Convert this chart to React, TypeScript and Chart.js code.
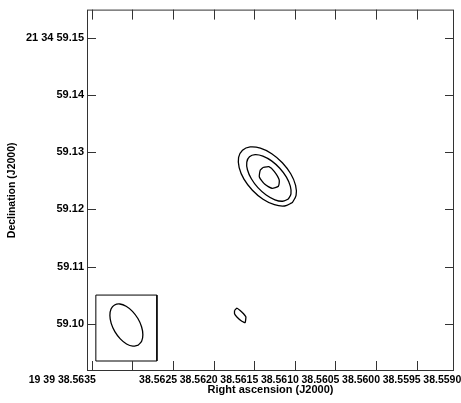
import React, { useEffect, useRef } from "react";
import { Chart, registerables } from "chart.js";

Chart.register(...registerables);

// Axis ranges (RA in seconds of 19h39m, Dec in arcsec of +21d34')
const raRange = [38.55904, 38.56356];
const decRange = [59.0917, 59.155];

// RA ticks listed left-to-right (RA decreases to the right)
const raTicks = [38.5635, 38.563, 38.5625, 38.562, 38.5615, 38.561, 38.5605, 38.56, 38.5595, 38.559];
const raTickLabels = ["19 39 38.5635", "", "38.5625", "38.5620", "38.5615", "38.5610", "38.5605", "38.5600", "38.5595", "38.5590"];
const decTicks = [59.1, 59.11, 59.12, 59.13, 59.14, 59.15];
const decTickLabels = ["59.10", "59.11", "59.12", "59.13", "59.14", "21 34 59.15"];

// Contours: [RA, Dec] vertices
const outerContour: [number, number][] = [
  [38.561032, 59.121176], [38.561126, 59.120603], [38.561252, 59.12082], [38.561392, 59.121786],
  [38.561523, 59.123365], [38.561627, 59.12531], [38.561686, 59.127323], [38.561693, 59.129103],
  [38.561645, 59.130375], [38.561551, 59.130948], [38.561425, 59.13073], [38.561285, 59.129765],
  [38.561154, 59.128185], [38.561051, 59.126241], [38.560991, 59.124227], [38.560985, 59.122448],
  [38.561032, 59.121176],
];
const middleContour: [number, number][] = [
  [38.561081, 59.121801], [38.561151, 59.121436], [38.561246, 59.121691], [38.561353, 59.122529],
  [38.561455, 59.123822], [38.561536, 59.125374], [38.561584, 59.126946], [38.561592, 59.128301],
  [38.561559, 59.129232], [38.561489, 59.129598], [38.561394, 59.129343], [38.561287, 59.128505],
  [38.561186, 59.127212], [38.561104, 59.12566], [38.561056, 59.124088], [38.561048, 59.122732],
  [38.561081, 59.121801],
];
const innerContour: [number, number][] = [
  [38.56139, 59.127361], [38.56132, 59.127499], [38.561252, 59.126637], [38.561193, 59.125172],
  [38.561203, 59.124051], [38.561283, 59.123706], [38.561369, 59.124396], [38.561437, 59.125689],
  [38.561425, 59.126896], [38.56139, 59.127361],
];
const smallContour: [number, number][] = [
  [38.561743, 59.10229], [38.561714, 59.10271], [38.561674, 59.10229], [38.561632, 59.10172],
  [38.561603, 59.10116], [38.561612, 59.10017], [38.561653, 59.1004], [38.561714, 59.10116],
  [38.561743, 59.10172], [38.561743, 59.10229],
];
const beamContour: [number, number][] = [
  [38.56293, 59.096217], [38.562995, 59.096045], [38.563073, 59.09644], [38.56315, 59.097333],
  [38.563217, 59.098595], [38.563262, 59.100033], [38.563278, 59.101422], [38.563264, 59.102559],
  [38.56322, 59.103265], [38.563155, 59.103438], [38.563078, 59.103043], [38.563, 59.10215],
  [38.562933, 59.100888], [38.562888, 59.09945], [38.562872, 59.09806], [38.562887, 59.096924],
  [38.56293, 59.096217],
];
const beamBox: [number, number][] = [
  [38.563451, 59.105], [38.562699, 59.105], [38.562699, 59.09345], [38.563451, 59.09345], [38.563451, 59.105],
];

const FONT = "'Liberation Sans', Arial, Helvetica, sans-serif";

const toPts = (arr: [number, number][]) => arr.map(([x, y]) => ({ x, y }));

const framePlugin = {
  id: "frameTicks",
  afterDraw(chart: any) {
    const { ctx, chartArea: a, scales } = chart;
    const xs = scales.x;
    const ys = scales.y;
    ctx.save();
    ctx.strokeStyle = "#333";
    ctx.lineWidth = 1;
    ctx.strokeRect(a.left + 0.5, a.top + 0.5, a.right - a.left - 1, a.bottom - a.top - 1);
    ctx.beginPath();
    raTicks.forEach((v) => {
      if (v < xs.min || v > xs.max) return;
      const px = Math.round(xs.getPixelForValue(v)) + 0.5;
      ctx.moveTo(px, a.bottom);
      ctx.lineTo(px, a.bottom - 10);
      ctx.moveTo(px, a.top);
      ctx.lineTo(px, a.top + 10);
    });
    decTicks.forEach((v) => {
      if (v < ys.min || v > ys.max) return;
      const py = Math.round(ys.getPixelForValue(v)) + 0.5;
      ctx.moveTo(a.left, py);
      ctx.lineTo(a.left + 9, py);
      ctx.moveTo(a.right, py);
      ctx.lineTo(a.right - 9, py);
    });
    ctx.stroke();
    ctx.restore();
  },
};

export default function App() {
  const ref = useRef<HTMLCanvasElement>(null);
  useEffect(() => {
    document.body.style.margin = "0";
    if (!ref.current) return;
    const line = (data: [number, number][], tension: number, width = 1.3) => ({
      data: toPts(data),
      showLine: true,
      borderColor: "#000",
      borderWidth: width,
      pointRadius: 0,
      tension,
      fill: false,
    });
    const chart = new Chart(ref.current, {
      type: "scatter",
      data: {
        datasets: [
          line(outerContour, 0.35),
          line(middleContour, 0.35),
          line(innerContour, 0.2),
          line(smallContour, 0.1),
          line(beamContour, 0.35),
          line(beamBox, 0, 1),
        ] as any,
      },
      options: {
        animation: false,
        responsive: false,
        layout: { padding: { top: 4, right: 7, left: 0, bottom: 0 } },
        plugins: { legend: { display: false }, tooltip: { enabled: false } },
        scales: {
          x: {
            type: "linear",
            position: "bottom",
            reverse: true,
            min: raRange[0],
            max: raRange[1],
            afterBuildTicks: (s: any) => {
              s.ticks = raTicks.map((v) => ({ value: v }));
            },
            afterFit: (s: any) => {
              s.height = 32;
            },
            grid: { display: false, drawTicks: false },
            border: { display: false },
            ticks: {
              autoSkip: false,
              maxRotation: 0,
              align: "end",
              labelOffset: 4,
              padding: 3,
              color: "#000",
              font: { family: FONT, size: 10.5, weight: "bold" },
              callback: (_v: any, i: number) => raTickLabels[i] ?? "",
            },
            title: {
              display: true,
              text: "Right ascension (J2000)",
              color: "#000",
              font: { family: FONT, size: 11, weight: "bold" },
              padding: { top: 0, bottom: 6 },
            },
          },
          y: {
            type: "linear",
            min: decRange[0],
            max: decRange[1],
            afterBuildTicks: (s: any) => {
              s.ticks = decTicks.map((v) => ({ value: v }));
            },
            afterFit: (s: any) => {
              s.width = 87;
            },
            grid: { display: false, drawTicks: false },
            border: { display: false },
            ticks: {
              autoSkip: false,
              padding: 3,
              color: "#000",
              font: { family: FONT, size: 11, weight: "bold" },
              callback: (_v: any, i: number) => decTickLabels[i] ?? "",
            },
            title: {
              display: true,
              text: "Declination (J2000)",
              color: "#000",
              font: { family: FONT, size: 10.5, weight: "bold" },
              padding: { top: 6, bottom: 0 },
            },
          },
        },
      },
      plugins: [framePlugin],
    } as any);
    return () => chart.destroy();
  }, []);
  return (
    <div style={{ position: "relative", width: 461, height: 403, background: "#fff" }}>
      <canvas ref={ref} width={461} height={403} style={{ display: "block", width: 461, height: 403 }} />
    </div>
  );
}
